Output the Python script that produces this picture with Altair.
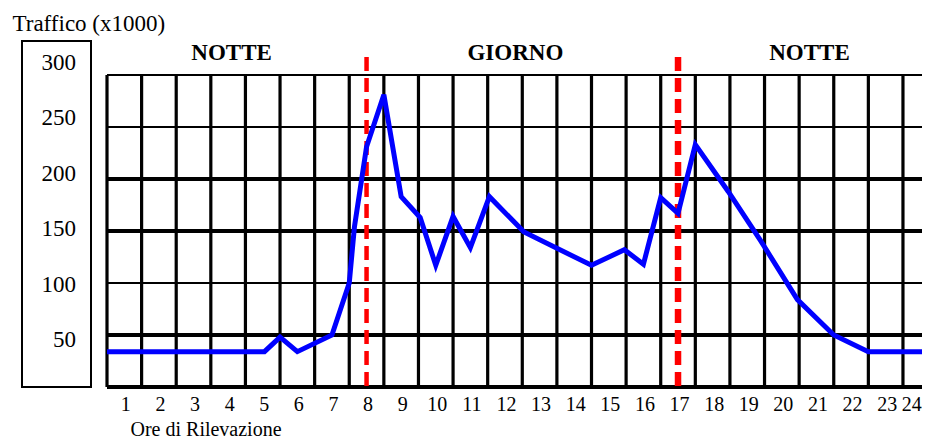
import altair as alt
import pandas as pd

# ---- data ----
hours = [0.5, 5.05, 5.5, 6.0, 7.0, 7.5, 7.65, 8.0, 8.5, 9.0, 9.55, 10.0, 10.5, 11.0,
         11.55, 12.55, 14.5, 15.45, 16.0, 16.5, 17.0, 17.5, 18.45, 19.4, 20.45,
         21.5, 22.5, 24.5]
traffic = [34, 34, 48, 34, 50, 100, 154, 231, 281, 183, 163, 117, 164, 134,
           183, 149, 117, 132, 118, 182, 167, 233, 188, 140, 84,
           50, 34, 34]

x_labels = list(range(1, 25))
y_labels = [50, 100, 150, 200, 250, 300]
v_grid = [h + 0.5 for h in range(0, 24)]
h_grid_major = [0, 50, 150, 200]
h_grid_minor = [100, 250, 300]
periods = ["NOTTE", "GIORNO", "NOTTE"]
period_centers = [4.1, 12.3, 20.8]
boundary_day = [8]
boundary_night = [17]

FONT = "Liberation Serif"
XDOM = [0.5, 24.05]
xs = alt.Scale(domain=XDOM)
ys = alt.Scale(domain=[0, 300])

x_axis = alt.Axis(
    values=x_labels, title="Ore di Rilevazione", labelFont=FONT,
    labelFontSize=20, labelColor="black", labelPadding=7, labelOffset=1,
    domain=False, ticks=False, grid=False, labelFlush=5,
    labelOverlap=False, titleFont=FONT, titleFontSize=20,
    titleFontWeight="normal", titleColor="black", titleAlign="left",
    titleAnchor="start", titleX=23, titleY=48.5, titleBaseline="alphabetic")

line_df = pd.DataFrame({"ora": hours, "traffico": traffic})

vgrid = alt.Chart(pd.DataFrame({"x": v_grid})).mark_rule(
    color="black", strokeWidth=3.2
).encode(x=alt.X("x:Q", scale=xs, axis=x_axis))

hmaj = alt.Chart(pd.DataFrame({"y": h_grid_major})).mark_rule(
    color="black", strokeWidth=3.8
).encode(y=alt.Y("y:Q", scale=ys, axis=None))

hmin = alt.Chart(pd.DataFrame({"y": h_grid_minor})).mark_rule(
    color="black", strokeWidth=2.2
).encode(y=alt.Y("y:Q", scale=ys, axis=None))

red1 = alt.Chart(pd.DataFrame({"x": boundary_day})).mark_rule(
    color="#ff0000", strokeWidth=4.5, strokeDash=[14, 7]
).encode(x=alt.X("x:Q", scale=xs, axis=x_axis), y=alt.value(-18), y2=alt.value(312))

red2 = alt.Chart(pd.DataFrame({"x": boundary_night})).mark_rule(
    color="#ff0000", strokeWidth=6.5, strokeDash=[14, 7]
).encode(x=alt.X("x:Q", scale=xs, axis=x_axis), y=alt.value(-18), y2=alt.value(312))

line = alt.Chart(line_df).mark_line(
    color="#0000ff", strokeWidth=5, clip=True
).encode(
    x=alt.X("ora:Q", scale=xs, axis=x_axis),
    y=alt.Y("traffico:Q", scale=ys, axis=None),
)

period_txt = alt.Chart(pd.DataFrame({"x": period_centers, "t": periods})).mark_text(
    font=FONT, fontSize=23, fontWeight="bold", color="black", baseline="alphabetic"
).encode(x=alt.X("x:Q", scale=xs, axis=x_axis), y=alt.value(-15), text="t:N")

box = alt.Chart(pd.DataFrame({"a": [0]})).mark_rect(
    fill="white", stroke="black", strokeWidth=2
).encode(x=alt.value(-85), x2=alt.value(-16), y=alt.value(-34), y2=alt.value(312))

ylab = alt.Chart(pd.DataFrame({"v": y_labels})).mark_text(
    font=FONT, fontSize=23, color="black", align="right", baseline="middle"
).encode(
    x=alt.value(-31),
    y=alt.Y("v:Q", scale=alt.Scale(domain=[7.6, 289.2]), axis=alt.Axis(
        orient="left", title="Traffico (x1000)", labels=False, ticks=False,
        domain=False, grid=False, titleAngle=0, titleX=-95, titleY=-45,
        titleAlign="left", titleBaseline="alphabetic", titleFont=FONT,
        titleFontSize=23, titleFontWeight="normal", titleColor="black")),
    text="v:Q",
)

main = alt.layer(vgrid, hmaj, hmin, red1, red2, line, period_txt, box)
chart = alt.layer(main, ylab).resolve_scale(y="independent").properties(
    width=815, height=312,
    autosize=alt.AutoSizeParams(type="none"),
    padding={"left": 99, "top": 67, "right": 0, "bottom": 53},
    background="white",
).configure_view(stroke=None)

chart.save("out.html", embed_options={"renderer": "svg", "actions": False})
